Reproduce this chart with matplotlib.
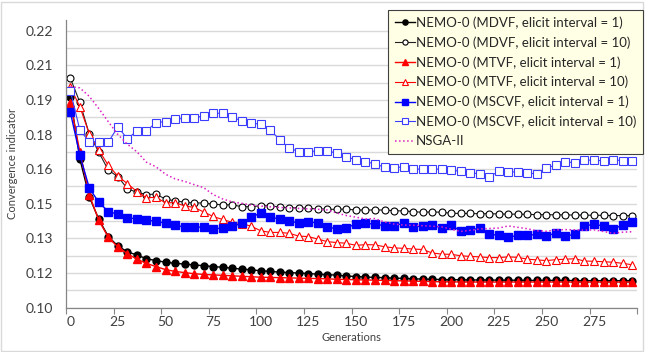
import matplotlib.pyplot as plt
from matplotlib.patches import Rectangle

plt.rcParams['font.family'] = ['Lato', 'DejaVu Sans']

gens = list(range(0, 300, 5))

mdvf_1 = [0.1914, 0.1645, 0.1480, 0.1382, 0.1308, 0.1267, 0.1242, 0.1228, 0.1212, 0.1204,
          0.1197, 0.1192, 0.1189, 0.1185, 0.1182, 0.1178, 0.1175, 0.1171, 0.1167, 0.1164,
          0.1160, 0.1157, 0.1154, 0.1152, 0.1150, 0.1148, 0.1145, 0.1143, 0.1141, 0.1137,
          0.1135, 0.1133, 0.1131, 0.1130, 0.1128, 0.1127, 0.1125, 0.1124, 0.1123, 0.1122,
          0.1121, 0.1121, 0.1120, 0.1120, 0.1120, 0.1119, 0.1119, 0.1119, 0.1118, 0.1118,
          0.1118, 0.1118, 0.1118, 0.1117, 0.1117, 0.1117, 0.1117, 0.1117, 0.1117, 0.1117]
mdvf_10 = [0.1995, 0.1890, 0.1751, 0.1673, 0.1595, 0.1568, 0.1515, 0.1500, 0.1490, 0.1492,
           0.1470, 0.1463, 0.1457, 0.1453, 0.1454, 0.1448, 0.1446, 0.1445, 0.1438, 0.1437,
           0.1442, 0.1441, 0.1436, 0.1433, 0.1433, 0.1430, 0.1428, 0.1426, 0.1426, 0.1427,
           0.1423, 0.1423, 0.1423, 0.1423, 0.1420, 0.1419, 0.1416, 0.1413, 0.1415, 0.1413,
           0.1409, 0.1408, 0.1408, 0.1407, 0.1407, 0.1406, 0.1405, 0.1405, 0.1404, 0.1403,
           0.1403, 0.1402, 0.1402, 0.1401, 0.1401, 0.1400, 0.1400, 0.1399, 0.1399, 0.1398]
mtvf_1 = [0.1888, 0.1676, 0.1488, 0.1378, 0.1304, 0.1263, 0.1234, 0.1210, 0.1192, 0.1178,
          0.1165, 0.1157, 0.1152, 0.1147, 0.1144, 0.1142, 0.1140, 0.1138, 0.1136, 0.1134,
          0.1132, 0.1131, 0.1130, 0.1129, 0.1128, 0.1127, 0.1126, 0.1125, 0.1123, 0.1122,
          0.1121, 0.1120, 0.1119, 0.1118, 0.1117, 0.1116, 0.1115, 0.1114, 0.1113, 0.1112,
          0.1112, 0.1111, 0.1111, 0.1111, 0.1111, 0.1111, 0.1111, 0.1111, 0.1111, 0.1111,
          0.1111, 0.1111, 0.1111, 0.1111, 0.1111, 0.1111, 0.1111, 0.1111, 0.1111, 0.1111]
mtvf_10 = [0.1956, 0.1871, 0.1752, 0.1682, 0.1616, 0.1570, 0.1537, 0.1503, 0.1476, 0.1478,
           0.1454, 0.1455, 0.1441, 0.1434, 0.1415, 0.1395, 0.1382, 0.1370, 0.1364, 0.1353,
           0.1333, 0.1326, 0.1326, 0.1322, 0.1310, 0.1308, 0.1297, 0.1286, 0.1282, 0.1279,
           0.1270, 0.1273, 0.1272, 0.1264, 0.1259, 0.1257, 0.1254, 0.1252, 0.1237, 0.1232,
           0.1231, 0.1225, 0.1222, 0.1220, 0.1217, 0.1217, 0.1220, 0.1218, 0.1210, 0.1207,
           0.1204, 0.1208, 0.1210, 0.1212, 0.1202, 0.1201, 0.1199, 0.1197, 0.1192, 0.1186]
mscvf_1 = [0.1848, 0.1661, 0.1518, 0.1456, 0.1416, 0.1405, 0.1389, 0.1385, 0.1380, 0.1374,
           0.1366, 0.1357, 0.1349, 0.1349, 0.1349, 0.1341, 0.1345, 0.1352, 0.1365, 0.1393,
           0.1409, 0.1392, 0.1384, 0.1374, 0.1368, 0.1373, 0.1366, 0.1350, 0.1341, 0.1347,
           0.1362, 0.1365, 0.1362, 0.1355, 0.1355, 0.1366, 0.1349, 0.1354, 0.1358, 0.1345,
           0.1357, 0.1332, 0.1337, 0.1344, 0.1319, 0.1313, 0.1305, 0.1313, 0.1314, 0.1317,
           0.1312, 0.1322, 0.1310, 0.1318, 0.1353, 0.1362, 0.1353, 0.1340, 0.1358, 0.1372]
mscvf_10 = [0.1940, 0.1770, 0.1718, 0.1719, 0.1718, 0.1783, 0.1731, 0.1766, 0.1765, 0.1802,
            0.1806, 0.1816, 0.1820, 0.1822, 0.1831, 0.1842, 0.1842, 0.1824, 0.1810, 0.1799,
            0.1795, 0.1770, 0.1727, 0.1691, 0.1676, 0.1676, 0.1679, 0.1679, 0.1669, 0.1654,
            0.1640, 0.1633, 0.1622, 0.1609, 0.1606, 0.1610, 0.1600, 0.1600, 0.1600, 0.1600,
            0.1595, 0.1591, 0.1583, 0.1581, 0.1566, 0.1592, 0.1588, 0.1588, 0.1583, 0.1580,
            0.1605, 0.1618, 0.1631, 0.1628, 0.1640, 0.1638, 0.1637, 0.1640, 0.1637, 0.1637]
nsga2 = [0.1958, 0.1952, 0.1915, 0.1862, 0.1805, 0.1750, 0.1708, 0.1675, 0.1630, 0.1610,
         0.1578, 0.1558, 0.1547, 0.1533, 0.1520, 0.1490, 0.1471, 0.1458, 0.1452, 0.1444,
         0.1440, 0.1437, 0.1434, 0.1432, 0.1430, 0.1428, 0.1426, 0.1423, 0.1410, 0.1399,
         0.1392, 0.1384, 0.1386, 0.1371, 0.1362, 0.1358, 0.1357, 0.1355, 0.1353, 0.1350,
         0.1340, 0.1330, 0.1335, 0.1341, 0.1343, 0.1345, 0.1354, 0.1348, 0.1342, 0.1333,
         0.1331, 0.1337, 0.1338, 0.1337, 0.1336, 0.1337, 0.1330, 0.1322, 0.1327, 0.1329]

y_ticks = [0.10, 0.115, 0.13, 0.145, 0.16, 0.175, 0.19, 0.205, 0.22]
y_labels = ['0.10', '0.12', '0.13', '0.15', '0.16', '0.18', '0.19', '0.21', '0.22']
x_ticks = list(range(0, 300, 25))

fig = plt.figure(figsize=(6.45, 3.52), dpi=100)
ax = fig.add_axes([0.1023, 0.1259, 0.8858, 0.8173])

blue = '#0000ff'
blue_open = '#3c3cff'
red = '#ff0000'
ms = 5

ax.plot(gens, mdvf_1, '-o', color='black', lw=1, ms=ms,
        label='NEMO-0 (MDVF, elicit interval = 1)')
ax.plot(gens, mdvf_10, '-o', color='#202020', lw=0.8, ms=ms, mfc='white',
        mec='black', mew=0.8, label='NEMO-0 (MDVF, elicit interval = 10)')
ax.plot(gens, mtvf_1, '-^', color=red, lw=1, ms=ms + 0.5,
        label='NEMO-0 (MTVF, elicit interval = 1)')
ax.plot(gens, mtvf_10, '-^', color=red, lw=0.8, ms=ms + 1, mfc='white',
        mec=red, mew=0.8, label='NEMO-0 (MTVF, elicit interval = 10)')
ax.plot(gens, mscvf_1, '-s', color=blue, lw=1, ms=ms + 1,
        label='NEMO-0 (MSCVF, elicit interval = 1)')
ax.plot(gens, mscvf_10, '-s', color=blue_open, lw=0.8, ms=ms + 1, mfc='white',
        mec=blue_open, mew=0.8, label='NEMO-0 (MSCVF, elicit interval = 10)')
ax.plot(gens, nsga2, ':', color='#dd1fc6', lw=1.1, label='NSGA-II')

ax.set_xlim(-2.26, 297.7)
ax.set_ylim(0.10, 0.2246)

# gridlines every 0.0075, labelled every other one
ax.set_yticks(y_ticks)
ax.set_yticklabels(y_labels)
ax.set_yticks([0.1075 + 0.015 * i for i in range(8)], minor=True)
ax.grid(True, axis='y', which='both', color='#d9d9d9', lw=1)
ax.set_axisbelow(True)
ax.tick_params(axis='y', which='both', length=0, pad=9, labelsize=10, labelcolor='#404040')

ax.set_xticks(x_ticks)
ax.set_xticks([t - 2.26 for t in range(0, 325, 25)], minor=True)
ax.tick_params(axis='x', which='major', length=0, pad=6, labelsize=10, labelcolor='#404040')
ax.tick_params(axis='x', which='minor', length=4, color='#868686', width=0.8)

for side in ('top', 'right'):
    ax.spines[side].set_visible(False)
for side in ('left', 'bottom'):
    ax.spines[side].set_color('#868686')
    ax.spines[side].set_linewidth(0.9)

ax.set_xlabel('Generations', fontsize=8, color='#404040', labelpad=3)
ax.set_ylabel('Convergence indicator', fontsize=8, color='#404040', labelpad=6)

leg = fig.legend(loc='upper right', bbox_to_anchor=(0.997, 0.972), fontsize=9.5,
                 frameon=True, fancybox=False, handlelength=1.5, handletextpad=0.12,
                 labelspacing=0.55, borderpad=0.5, borderaxespad=0, markerscale=0.75)
leg.get_frame().set_facecolor('#ffffe6')
leg.get_frame().set_edgecolor('#404040')
leg.get_frame().set_linewidth(0.8)
leg.get_frame().set_alpha(1)
for t in leg.get_texts():
    t.set_color('#262626')

fig.patches.append(Rectangle((0.002, 0.004), 0.995, 0.99, transform=fig.transFigure,
                             fill=False, edgecolor='#d9d9d9', lw=1))

fig.savefig('out.png', dpi=100)
